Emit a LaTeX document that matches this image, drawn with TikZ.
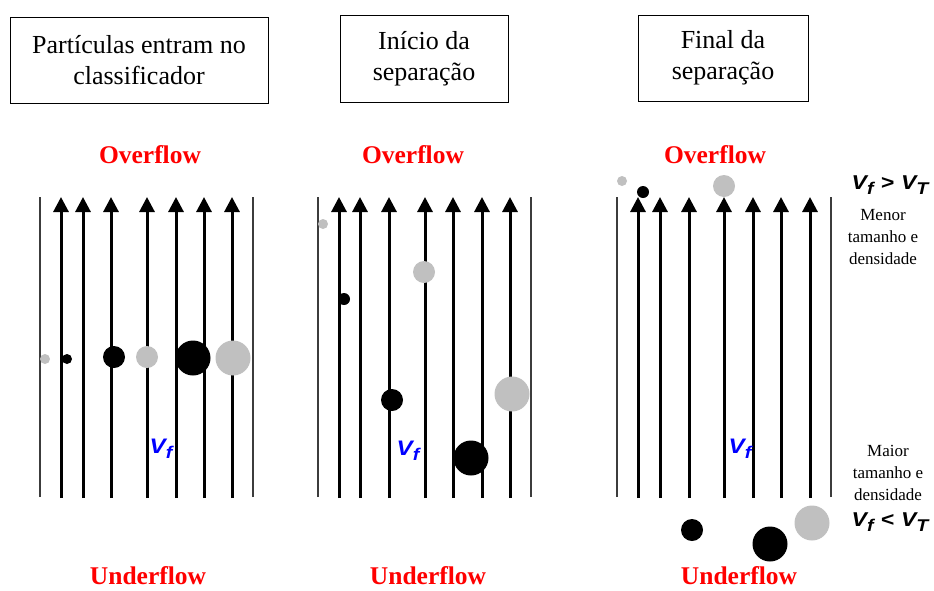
\documentclass[tikz,border=0pt]{standalone}
\usepackage{fontspec}
\usepackage{graphicx}
\setmainfont{Liberation Serif}
\newfontfamily\arialf{Liberation Sans}
\usetikzlibrary{arrows.meta}
\definecolor{partgray}{RGB}{192,192,192}
\definecolor{wallgray}{RGB}{60,60,60}
\newcommand{\vsym}[1]{\scalebox{1.15}[1]{\arialf\bfseries\itshape V\raisebox{-5pt}{\fontsize{17}{17}\selectfont #1}}}
\newcommand{\relsym}[1]{\scalebox{1.15}[1]{\arialf\bfseries\itshape #1}}
\tikzset{
  titlebox/.style={draw=black, line width=0.9pt, inner sep=0pt, font=\fontsize{26}{31}\selectfont, align=center},
  flowlabel/.style={text=red, font=\fontsize{25.5}{28}\selectfont\bfseries, inner sep=0pt},
  vflabel/.style={text=blue, font=\fontsize{21}{21}\selectfont, inner sep=0pt},
  cmp/.style={text=black, font=\fontsize{20}{20}\selectfont, inner sep=0pt},
  note/.style={font=\fontsize{17}{22}\selectfont, align=center, inner sep=0pt},
  wall/.style={draw=wallgray, line width=1.4pt},
  flow/.style={draw=black, line width=3pt, -{Triangle[width=15pt,length=15pt]}},
  pblack/.style={circle, fill=black, inner sep=0pt, minimum size=#1},
  pgray/.style={circle, fill=partgray, inner sep=0pt, minimum size=#1},
}
\begin{document}
\begin{tikzpicture}[x=1pt,y=-1pt]
\useasboundingbox (0,0) rectangle (934,590);
% title boxes
\node[titlebox, minimum width=258pt, minimum height=86pt] (b1) at (139,60) {Partículas entram no\\classificador};
\node[titlebox, minimum width=168pt, minimum height=87pt] (b2) at (424,58.5) {Início da\\separação};
\node[titlebox, minimum width=170pt, minimum height=86pt] (b3) at (723,58) {Final da\\separação};

% overflow / underflow labels
\node[flowlabel] (o1) at (150,155) {Overflow};
\node[flowlabel] (o2) at (413,155) {Overflow};
\node[flowlabel] (o3) at (715,155) {Overflow};
\node[flowlabel, anchor=base, text depth=0pt] (u1) at (148,584) {Underflow};
\node[flowlabel, anchor=base, text depth=0pt] (u2) at (428,584) {Underflow};
\node[flowlabel, anchor=base, text depth=0pt] (u3) at (739,584) {Underflow};

% walls
\foreach \i/\x in {1a/40,1b/253,2a/318,2b/531,3a/617,3b/831}{
  \coordinate (w\i t) at (\x,197);
  \coordinate (w\i b) at (\x,497);
  \draw[wall] (w\i b) -- (w\i t);
}
% flow arrows
\foreach \x [count=\k] in {61,83,111,147,176,204,232, 339,360,389,425,453,482,510, 638,660,689,724,753,781,810}{
  \coordinate (f\k b) at (\x,498);
  \coordinate (f\k t) at (\x,197);
  \draw[flow] (f\k b) -- (f\k t);
}

% particles panel 1
\node[pgray=10pt] (p1a) at (45,359) {};
\node[pblack=10pt] (p1b) at (67,359) {};
\node[pblack=22pt] (p1c) at (114,357) {};
\node[pgray=22pt] (p1d) at (147,357) {};
\node[pblack=35pt] (p1e) at (193,358) {};
\node[pgray=35pt] (p1f) at (233,358) {};
% particles panel 2
\node[pgray=10pt] (p2a) at (323,224) {};
\node[pblack=12pt] (p2b) at (344,299) {};
\node[pgray=22pt] (p2c) at (424,272) {};
\node[pblack=22pt] (p2d) at (392,400) {};
\node[pgray=35pt] (p2e) at (512,394) {};
\node[pblack=35pt] (p2f) at (471,458) {};
% particles panel 3
\node[pgray=10pt] (p3a) at (622,181) {};
\node[pblack=12pt] (p3b) at (643,192) {};
\node[pgray=22pt] (p3c) at (724,186) {};
\node[pblack=22pt] (p3d) at (692,530) {};
\node[pblack=35pt] (p3e) at (770,544) {};
\node[pgray=35pt] (p3f) at (812,523) {};

% velocity labels
\node[vflabel] (v1) at (161,449) {\vsym{f}};
\node[vflabel] (v2) at (408,451) {\vsym{f}};
\node[vflabel] (v3) at (740,449) {\vsym{f}};

% right side notes
\node[cmp] (c1) at (890,185) {\vsym{f}\hspace{7pt}\relsym{>}\hspace{7pt}\vsym{T}};
\node[note, anchor=base] (n1) at (883,264) {Menor\\tamanho e\\densidade};
\node[note, anchor=base] (n2) at (888,500) {Maior\\tamanho e\\densidade};
\node[cmp] (c2) at (890,522) {\vsym{f}\hspace{7pt}\relsym{<}\hspace{7pt}\vsym{T}};
\end{tikzpicture}
\end{document}
